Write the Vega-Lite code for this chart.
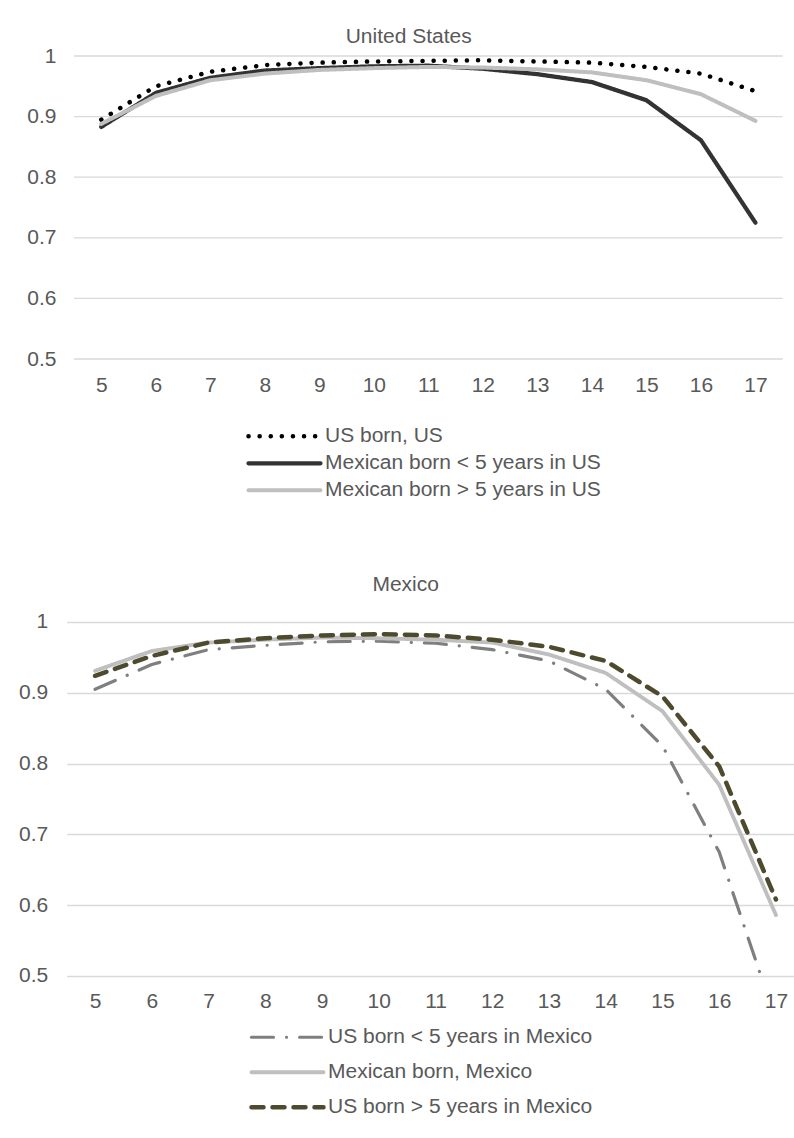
{
  "$schema": "https://vega.github.io/schema/vega-lite/v6.json",
  "padding": {"left": 17.7, "top": 26, "right": 0, "bottom": 0},
  "config": {
    "font": "Liberation Sans",
    "view": {"stroke": null},
    "axis": {
      "domain": false,
      "ticks": false,
      "tickSize": 0,
      "labelFontSize": 21,
      "labelColor": "#595959",
      "labelFont": "Liberation Sans",
      "gridColor": "#D9D9D9",
      "gridWidth": 1.3,
      "title": null
    },
    "axisX": {"grid": false, "labelPadding": 15},
    "axisY": {"labelPadding": 19},
    "title": {"fontSize": 21, "fontWeight": "normal", "color": "#595959", "anchor": "middle", "frame": "group", "font": "Liberation Sans"},
    "legend": {
      "orient": "none",
      "direction": "vertical",
      "title": null,
      "padding": 0,
      "labelFontSize": 21,
      "labelColor": "#595959",
      "labelFont": "Liberation Sans",
      "labelOffset": 2,
      "symbolType": "stroke",
      "symbolSize": 5184,
      "labelLimit": 500
    }
  },
  "datasets": {
    "grid": [
      {"v": 0.5}, {"v": 0.6}, {"v": 0.7}, {"v": 0.8}, {"v": 0.9}, {"v": 1}
    ],
    "us": [
      {"series": "US born, US", "age": 5, "value": 0.895},
      {"series": "US born, US", "age": 6, "value": 0.95},
      {"series": "US born, US", "age": 7, "value": 0.974},
      {"series": "US born, US", "age": 8, "value": 0.985},
      {"series": "US born, US", "age": 9, "value": 0.989},
      {"series": "US born, US", "age": 10, "value": 0.991},
      {"series": "US born, US", "age": 11, "value": 0.992},
      {"series": "US born, US", "age": 12, "value": 0.993},
      {"series": "US born, US", "age": 13, "value": 0.991},
      {"series": "US born, US", "age": 14, "value": 0.989},
      {"series": "US born, US", "age": 15, "value": 0.982},
      {"series": "US born, US", "age": 16, "value": 0.971},
      {"series": "US born, US", "age": 17, "value": 0.942},
      {"series": "Mexican born < 5 years in US", "age": 5, "value": 0.883},
      {"series": "Mexican born < 5 years in US", "age": 6, "value": 0.939},
      {"series": "Mexican born < 5 years in US", "age": 7, "value": 0.964},
      {"series": "Mexican born < 5 years in US", "age": 8, "value": 0.976},
      {"series": "Mexican born < 5 years in US", "age": 9, "value": 0.98},
      {"series": "Mexican born < 5 years in US", "age": 10, "value": 0.983},
      {"series": "Mexican born < 5 years in US", "age": 11, "value": 0.984},
      {"series": "Mexican born < 5 years in US", "age": 12, "value": 0.979},
      {"series": "Mexican born < 5 years in US", "age": 13, "value": 0.97},
      {"series": "Mexican born < 5 years in US", "age": 14, "value": 0.957},
      {"series": "Mexican born < 5 years in US", "age": 15, "value": 0.927},
      {"series": "Mexican born < 5 years in US", "age": 16, "value": 0.861},
      {"series": "Mexican born < 5 years in US", "age": 17, "value": 0.725},
      {"series": "Mexican born > 5 years in US", "age": 5, "value": 0.888},
      {"series": "Mexican born > 5 years in US", "age": 6, "value": 0.934},
      {"series": "Mexican born > 5 years in US", "age": 7, "value": 0.96},
      {"series": "Mexican born > 5 years in US", "age": 8, "value": 0.971},
      {"series": "Mexican born > 5 years in US", "age": 9, "value": 0.977},
      {"series": "Mexican born > 5 years in US", "age": 10, "value": 0.98},
      {"series": "Mexican born > 5 years in US", "age": 11, "value": 0.982},
      {"series": "Mexican born > 5 years in US", "age": 12, "value": 0.981},
      {"series": "Mexican born > 5 years in US", "age": 13, "value": 0.978},
      {"series": "Mexican born > 5 years in US", "age": 14, "value": 0.973},
      {"series": "Mexican born > 5 years in US", "age": 15, "value": 0.96},
      {"series": "Mexican born > 5 years in US", "age": 16, "value": 0.937},
      {"series": "Mexican born > 5 years in US", "age": 17, "value": 0.893}
    ],
    "mx": [
      {"series": "US born < 5 years in Mexico", "age": 5, "value": 0.905},
      {"series": "US born < 5 years in Mexico", "age": 6, "value": 0.94},
      {"series": "US born < 5 years in Mexico", "age": 7, "value": 0.961},
      {"series": "US born < 5 years in Mexico", "age": 8, "value": 0.967},
      {"series": "US born < 5 years in Mexico", "age": 9, "value": 0.972},
      {"series": "US born < 5 years in Mexico", "age": 10, "value": 0.973},
      {"series": "US born < 5 years in Mexico", "age": 11, "value": 0.97},
      {"series": "US born < 5 years in Mexico", "age": 12, "value": 0.961},
      {"series": "US born < 5 years in Mexico", "age": 13, "value": 0.945},
      {"series": "US born < 5 years in Mexico", "age": 14, "value": 0.905},
      {"series": "US born < 5 years in Mexico", "age": 15, "value": 0.825},
      {"series": "US born < 5 years in Mexico", "age": 16, "value": 0.675},
      {"series": "US born < 5 years in Mexico", "age": 17, "value": 0.437},
      {"series": "Mexican born, Mexico", "age": 5, "value": 0.931},
      {"series": "Mexican born, Mexico", "age": 6, "value": 0.959},
      {"series": "Mexican born, Mexico", "age": 7, "value": 0.971},
      {"series": "Mexican born, Mexico", "age": 8, "value": 0.975},
      {"series": "Mexican born, Mexico", "age": 9, "value": 0.978},
      {"series": "Mexican born, Mexico", "age": 10, "value": 0.977},
      {"series": "Mexican born, Mexico", "age": 11, "value": 0.975},
      {"series": "Mexican born, Mexico", "age": 12, "value": 0.971},
      {"series": "Mexican born, Mexico", "age": 13, "value": 0.954},
      {"series": "Mexican born, Mexico", "age": 14, "value": 0.928},
      {"series": "Mexican born, Mexico", "age": 15, "value": 0.874},
      {"series": "Mexican born, Mexico", "age": 16, "value": 0.77},
      {"series": "Mexican born, Mexico", "age": 17, "value": 0.586},
      {"series": "US born > 5 years in Mexico", "age": 5, "value": 0.924},
      {"series": "US born > 5 years in Mexico", "age": 6, "value": 0.952},
      {"series": "US born > 5 years in Mexico", "age": 7, "value": 0.971},
      {"series": "US born > 5 years in Mexico", "age": 8, "value": 0.977},
      {"series": "US born > 5 years in Mexico", "age": 9, "value": 0.981},
      {"series": "US born > 5 years in Mexico", "age": 10, "value": 0.983},
      {"series": "US born > 5 years in Mexico", "age": 11, "value": 0.981},
      {"series": "US born > 5 years in Mexico", "age": 12, "value": 0.975},
      {"series": "US born > 5 years in Mexico", "age": 13, "value": 0.965},
      {"series": "US born > 5 years in Mexico", "age": 14, "value": 0.945},
      {"series": "US born > 5 years in Mexico", "age": 15, "value": 0.895},
      {"series": "US born > 5 years in Mexico", "age": 16, "value": 0.796},
      {"series": "US born > 5 years in Mexico", "age": 17, "value": 0.608}
    ]
  },
  "spacing": 71,
  "resolve": {
    "scale": {"stroke": "independent", "strokeDash": "independent", "strokeWidth": "independent"},
    "legend": {"stroke": "independent", "strokeDash": "independent", "strokeWidth": "independent"}
  },
  "vconcat": [
    {
      "title": {"text": "United States", "offset": -2, "dx": -16},
      "width": 716,
      "height": 303,
      "layer": [
        {
          "data": {"name": "grid"},
          "mark": {"type": "rule", "color": "#D9D9D9", "strokeWidth": 1.3},
          "encoding": {
            "y": {"field": "v", "type": "quantitative"},
            "x": {"datum": 4.5},
            "x2": {"datum": 17.5}
          }
        },
        {
          "data": {"name": "us"},
          "mark": {"type": "line", "strokeCap": "round", "strokeJoin": "round"},
          "encoding": {
            "x": {
              "field": "age",
              "type": "quantitative",
              "scale": {"domain": [4.366, 17.5], "nice": false, "zero": false},
              "axis": {"values": [5, 6, 7, 8, 9, 10, 11, 12, 13, 14, 15, 16, 17]}
            },
            "y": {
              "field": "value",
              "type": "quantitative",
              "scale": {"domain": [0.5, 1], "nice": false, "zero": false},
              "axis": {"values": [0.5, 0.6, 0.7, 0.8, 0.9, 1], "format": "~g", "grid": false, "labelPadding": 10.7}
            },
            "stroke": {
              "field": "series",
              "type": "nominal",
              "sort": null,
              "scale": {
                "domain": ["US born, US", "Mexican born < 5 years in US", "Mexican born > 5 years in US"],
                "range": ["#000000", "#333333", "#BFBFBF"]
              },
              "legend": {
                "legendX": 179.3,
                "legendY": 367.8,
                "clipHeight": 25,
                "encode": {"symbols": {"update": {"strokeCap": {"value": "round"}}}}
              }
            },
            "strokeDash": {
              "field": "series",
              "type": "nominal",
              "sort": null,
              "scale": {
                "domain": ["US born, US", "Mexican born < 5 years in US", "Mexican born > 5 years in US"],
                "range": [[0.1, 11], [1, 0], [1, 0]]
              },
              "legend": {
                "legendX": 179.3,
                "legendY": 367.8,
                "clipHeight": 25,
                "encode": {"symbols": {"update": {"strokeCap": {"value": "round"}}}}
              }
            },
            "strokeWidth": {
              "field": "series",
              "type": "ordinal",
              "sort": null,
              "scale": {
                "domain": ["US born, US", "Mexican born < 5 years in US", "Mexican born > 5 years in US"],
                "range": [4.5, 4, 4.5]
              },
              "legend": {
                "legendX": 179.3,
                "legendY": 367.8,
                "clipHeight": 25,
                "encode": {"symbols": {"update": {"strokeCap": {"value": "round"}}}}
              }
            }
          }
        }
      ]
    },
    {
      "title": {"text": "Mexico", "offset": 16, "dx": -25},
      "width": 728,
      "height": 354,
      "data": {"name": "mx"},
      "mark": {"type": "line", "strokeCap": "round", "strokeJoin": "round", "clip": true},
      "encoding": {
        "x": {
          "field": "age",
          "type": "quantitative",
          "scale": {"domain": [4.5, 17.33], "nice": false, "zero": false},
          "axis": {"values": [5, 6, 7, 8, 9, 10, 11, 12, 13, 14, 15, 16, 17]}
        },
        "y": {
          "field": "value",
          "type": "quantitative",
          "scale": {"domain": [0.5, 1], "nice": false, "zero": false},
          "axis": {"values": [0.5, 0.6, 0.7, 0.8, 0.9, 1], "format": "~g"}
        },
        "stroke": {
          "field": "series",
          "type": "nominal",
          "sort": null,
          "scale": {
            "domain": ["US born < 5 years in Mexico", "Mexican born, Mexico", "US born > 5 years in Mexico"],
            "range": ["#7F7F7F", "#BFBFBF", "#4E4A2E"]
          },
          "legend": {
            "legendX": 182.3,
            "legendY": 399,
            "clipHeight": 32.5,
            "encode": {"symbols": {"update": {"strokeCap": {"value": "round"}}}}
          }
        },
        "strokeDash": {
          "field": "series",
          "type": "nominal",
          "sort": null,
          "scale": {
            "domain": ["US born < 5 years in Mexico", "Mexican born, Mexico", "US born > 5 years in Mexico"],
            "range": [[22, 13, 0.1, 13], [1, 0], [12, 9]]
          },
          "legend": {
            "legendX": 182.3,
            "legendY": 399,
            "clipHeight": 32.5,
            "encode": {"symbols": {"update": {"strokeCap": {"value": "round"}}}}
          }
        },
        "strokeWidth": {
          "field": "series",
          "type": "ordinal",
          "sort": null,
          "scale": {
            "domain": ["US born < 5 years in Mexico", "Mexican born, Mexico", "US born > 5 years in Mexico"],
            "range": [3.2, 4.5, 4.5]
          },
          "legend": {
            "legendX": 182.3,
            "legendY": 399,
            "clipHeight": 32.5,
            "encode": {"symbols": {"update": {"strokeCap": {"value": "round"}}}}
          }
        }
      }
    }
  ]
}
